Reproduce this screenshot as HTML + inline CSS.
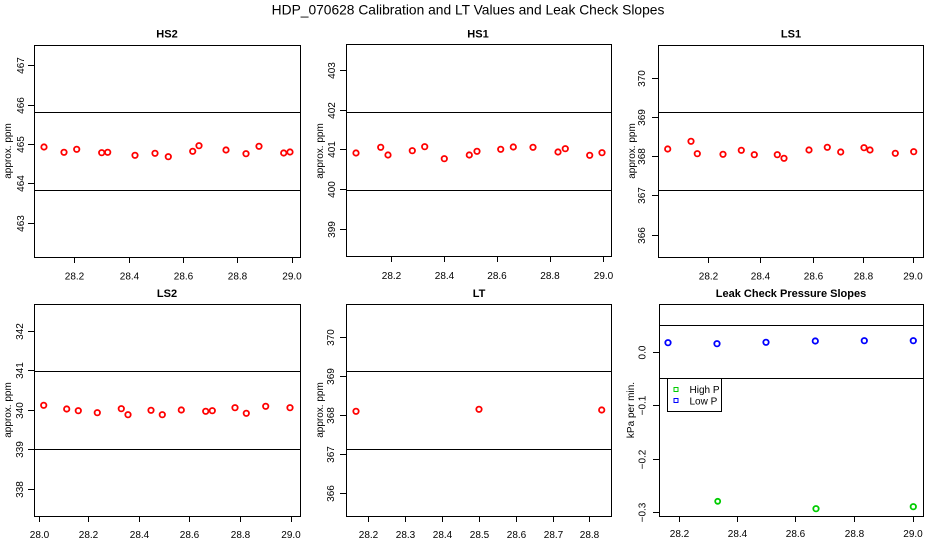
<!DOCTYPE html>
<html><head><meta charset="utf-8"><style>
html,body{margin:0;padding:0;background:#fff;}
svg{display:block;}
text{font-family:"Liberation Sans",Arial,sans-serif;}
</style></head><body>
<svg width="936" height="540" viewBox="0 0 936 540" xmlns="http://www.w3.org/2000/svg">
<text x="468" y="14.5" font-size="13.8" text-anchor="middle">HDP_070628  Calibration and LT Values and Leak Check Slopes</text>

<g fill="none" stroke="#000" stroke-width="1">
<rect x="34.5" y="45.5" width="266" height="212"/>
<rect x="346.5" y="44.5" width="265" height="212"/>
<rect x="658.5" y="45.5" width="265" height="212"/>
<rect x="34.5" y="304.5" width="266" height="212"/>
<rect x="346.5" y="304.5" width="265" height="212"/>
<rect x="659.5" y="304.5" width="264" height="212"/>
<line x1="34" y1="112.5" x2="300" y2="112.5"/>
<line x1="34" y1="190.5" x2="300" y2="190.5"/>
<line x1="346" y1="112.5" x2="611" y2="112.5"/>
<line x1="346" y1="190.5" x2="611" y2="190.5"/>
<line x1="658" y1="112.5" x2="923" y2="112.5"/>
<line x1="658" y1="190.5" x2="923" y2="190.5"/>
<line x1="34" y1="371.5" x2="300" y2="371.5"/>
<line x1="34" y1="449.5" x2="300" y2="449.5"/>
<line x1="346" y1="371.5" x2="611" y2="371.5"/>
<line x1="346" y1="449.5" x2="611" y2="449.5"/>
<line x1="659" y1="325.5" x2="923" y2="325.5"/>
<line x1="659" y1="378.5" x2="923" y2="378.5"/>
<path d="M28 65.5H34M28 105.5H34M28 144.5H34M28 183.5H34M28 223.5H34"/>
<path d="M340 70.5H346M340 110.5H346M340 149.5H346M340 189.5H346M340 229.5H346"/>
<path d="M652 78.5H658M652 117.5H658M652 156.5H658M652 195.5H658M652 235.5H658"/>
<path d="M28 331.5H34M28 370.5H34M28 410.5H34M28 449.5H34M28 489.5H34"/>
<path d="M340 337.5H346M340 376.5H346M340 415.5H346M340 454.5H346M340 493.5H346"/>
<path d="M653 352.5H659M653 405.5H659M653 459.5H659M653 512.5H659"/>
<path d="M74.5 257V263M129.5 257V263M183.5 257V263M237.5 257V263M292.5 257V263"/>
<path d="M391.5 256V262M444.5 256V262M497.5 256V262M550.5 256V262M603.5 256V262"/>
<path d="M708.5 257V263M760.5 257V263M813.5 257V263M863.5 257V263M913.5 257V263"/>
<path d="M39.5 516V522M88.5 516V522M139.5 516V522M189.5 516V522M240.5 516V522M291.5 516V522"/>
<path d="M368.5 516V522M405.5 516V522M442.5 516V522M479.5 516V522M516.5 516V522M553.5 516V522M589.5 516V522"/>
<path d="M679.5 516V522M737.5 516V522M795.5 516V522M854.5 516V522M913.5 516V522"/>
<rect x="667.5" y="378.5" width="54" height="33" fill="#fff"/>
</g>

<g font-size="11" font-weight="bold" text-anchor="middle">
<text x="167" y="37.5">HS2</text>
<text x="478" y="37.5">HS1</text>
<text x="791" y="37.5">LS1</text>
<text x="167" y="297">LS2</text>
<text x="479" y="297">LT</text>
<text x="791" y="297">Leak Check Pressure Slopes</text>
</g>

<g font-size="10" text-anchor="middle">
<text x="74.5" y="279.5">28.2</text><text x="129.5" y="279.5">28.4</text><text x="183.5" y="279.5">28.6</text><text x="237.5" y="279.5">28.8</text><text x="292" y="279.5">29.0</text>
<text x="391.5" y="279">28.2</text><text x="444.5" y="279">28.4</text><text x="497" y="279">28.6</text><text x="550" y="279">28.8</text><text x="603.5" y="279">29.0</text>
<text x="708.5" y="279.5">28.2</text><text x="760.5" y="279.5">28.4</text><text x="813.5" y="279.5">28.6</text><text x="863.5" y="279.5">28.8</text><text x="913" y="279.5">29.0</text>
<text x="39.5" y="538">28.0</text><text x="88.5" y="538">28.2</text><text x="139.5" y="538">28.4</text><text x="189.5" y="538">28.6</text><text x="240.5" y="538">28.8</text><text x="291" y="538">29.0</text>
<text x="368.5" y="538">28.2</text><text x="405.5" y="538">28.3</text><text x="442.5" y="538">28.4</text><text x="479.5" y="538">28.5</text><text x="516.5" y="538">28.6</text><text x="553.5" y="538">28.7</text><text x="589.5" y="538">28.8</text>
<text x="679.5" y="537">28.2</text><text x="737.5" y="537">28.4</text><text x="795.5" y="537">28.6</text><text x="854.5" y="537">28.8</text><text x="913" y="537">29.0</text>
</g>

<g font-size="10" text-anchor="middle">
<text transform="translate(24,65.5) rotate(-90)">467</text>
<text transform="translate(24,105.5) rotate(-90)">466</text>
<text transform="translate(24,144.5) rotate(-90)">465</text>
<text transform="translate(24,183.5) rotate(-90)">464</text>
<text transform="translate(24,223.5) rotate(-90)">463</text>

<text transform="translate(335,70.5) rotate(-90)">403</text>
<text transform="translate(335,110.5) rotate(-90)">402</text>
<text transform="translate(335,149.5) rotate(-90)">401</text>
<text transform="translate(335,189.5) rotate(-90)">400</text>
<text transform="translate(335,229.5) rotate(-90)">399</text>

<text transform="translate(645,78.5) rotate(-90)">370</text>
<text transform="translate(645,117.5) rotate(-90)">369</text>
<text transform="translate(645,156.5) rotate(-90)">368</text>
<text transform="translate(645,195.5) rotate(-90)">367</text>
<text transform="translate(645,235.5) rotate(-90)">366</text>

<text transform="translate(23,331.5) rotate(-90)">342</text>
<text transform="translate(23,370.5) rotate(-90)">341</text>
<text transform="translate(23,410.5) rotate(-90)">340</text>
<text transform="translate(23,449.5) rotate(-90)">339</text>
<text transform="translate(23,489.5) rotate(-90)">338</text>

<text transform="translate(334,337.5) rotate(-90)">370</text>
<text transform="translate(334,376.5) rotate(-90)">369</text>
<text transform="translate(334,415.5) rotate(-90)">368</text>
<text transform="translate(334,454.5) rotate(-90)">367</text>
<text transform="translate(334,493.5) rotate(-90)">366</text>

<text transform="translate(645.5,352.5) rotate(-90)">0.0</text>
<text transform="translate(645.5,405.5) rotate(-90)">−0.1</text>
<text transform="translate(645.5,459.5) rotate(-90)">−0.2</text>
<text transform="translate(645.5,512.5) rotate(-90)">−0.3</text>
</g>

<g font-size="10" text-anchor="middle">
<text transform="translate(11,151) rotate(-90)">approx. ppm</text>
<text transform="translate(323,151) rotate(-90)">approx. ppm</text>
<text transform="translate(635,151) rotate(-90)">approx. ppm</text>
<text transform="translate(11,410) rotate(-90)">approx. ppm</text>
<text transform="translate(323,410) rotate(-90)">approx. ppm</text>
<text transform="translate(634,410) rotate(-90)">kPa per min.</text>
</g>

<g fill="none" stroke="#ff0000" stroke-width="1.8">
<circle cx="44" cy="147" r="2.7"/><circle cx="64" cy="152.3" r="2.7"/><circle cx="76.7" cy="149.3" r="2.7"/><circle cx="101.7" cy="152.7" r="2.7"/><circle cx="107.7" cy="152.3" r="2.7"/><circle cx="135" cy="155.3" r="2.7"/><circle cx="155" cy="153.3" r="2.7"/><circle cx="168.3" cy="156.7" r="2.7"/><circle cx="192.7" cy="151.3" r="2.7"/><circle cx="199" cy="145.7" r="2.7"/><circle cx="226" cy="150" r="2.7"/><circle cx="246" cy="153.7" r="2.7"/><circle cx="259" cy="146.3" r="2.7"/><circle cx="283.7" cy="153" r="2.7"/><circle cx="290" cy="152" r="2.7"/>

<circle cx="356" cy="153" r="2.7"/><circle cx="380.7" cy="147.3" r="2.7"/><circle cx="388" cy="155" r="2.7"/><circle cx="412.3" cy="150.7" r="2.7"/><circle cx="424.7" cy="146.7" r="2.7"/><circle cx="444.3" cy="158.7" r="2.7"/><circle cx="469.3" cy="155" r="2.7"/><circle cx="477" cy="151.3" r="2.7"/><circle cx="500.7" cy="149.3" r="2.7"/><circle cx="513.3" cy="147" r="2.7"/><circle cx="533" cy="147.3" r="2.7"/><circle cx="558" cy="152" r="2.7"/><circle cx="565.3" cy="148.7" r="2.7"/><circle cx="589.7" cy="155.3" r="2.7"/><circle cx="602" cy="152.7" r="2.7"/>

<circle cx="667.7" cy="149" r="2.7"/><circle cx="691" cy="141.3" r="2.7"/><circle cx="697.3" cy="153.7" r="2.7"/><circle cx="723" cy="154.3" r="2.7"/><circle cx="741.3" cy="150.3" r="2.7"/><circle cx="754.3" cy="154.7" r="2.7"/><circle cx="777.3" cy="154.7" r="2.7"/><circle cx="784" cy="158.3" r="2.7"/><circle cx="809" cy="150" r="2.7"/><circle cx="827.3" cy="147.3" r="2.7"/><circle cx="840.7" cy="152" r="2.7"/><circle cx="864" cy="147.7" r="2.7"/><circle cx="870" cy="150" r="2.7"/><circle cx="895.3" cy="153.3" r="2.7"/><circle cx="913.7" cy="151.7" r="2.7"/>

<circle cx="43.7" cy="405.3" r="2.7"/><circle cx="66.7" cy="409" r="2.7"/><circle cx="78.3" cy="410.7" r="2.7"/><circle cx="97.3" cy="412.7" r="2.7"/><circle cx="121.3" cy="408.7" r="2.7"/><circle cx="128" cy="414.7" r="2.7"/><circle cx="151" cy="410.3" r="2.7"/><circle cx="162.3" cy="414.7" r="2.7"/><circle cx="181.3" cy="410" r="2.7"/><circle cx="205.7" cy="411.3" r="2.7"/><circle cx="212.3" cy="410.7" r="2.7"/><circle cx="235" cy="407.7" r="2.7"/><circle cx="246.3" cy="413.3" r="2.7"/><circle cx="265.7" cy="406.3" r="2.7"/><circle cx="290" cy="407.7" r="2.7"/>

<circle cx="356" cy="411.3" r="2.7"/><circle cx="479" cy="409.3" r="2.7"/><circle cx="601.7" cy="410" r="2.7"/>
</g>
<g fill="none" stroke="#0000ff" stroke-width="1.8">
<circle cx="668" cy="342.7" r="2.7"/><circle cx="717" cy="343.7" r="2.7"/><circle cx="766" cy="342.3" r="2.7"/><circle cx="815.3" cy="341" r="2.7"/><circle cx="864.3" cy="340.7" r="2.7"/><circle cx="913.3" cy="340.7" r="2.7"/>
</g>
<g fill="none" stroke="#00cc00" stroke-width="1.8">
<circle cx="717.7" cy="501.3" r="2.5"/><circle cx="816" cy="508.7" r="2.7"/><circle cx="913.3" cy="506.7" r="2.7"/>
</g>

<rect x="674" y="387.5" width="4" height="4" fill="none" stroke="#00cc00" stroke-width="1"/>
<rect x="674" y="398.5" width="4" height="4" fill="none" stroke="#0000ff" stroke-width="1"/>
<text x="689.5" y="393" font-size="10">High P</text>
<text x="689.5" y="404.5" font-size="10">Low P</text>
</svg>
</body></html>
